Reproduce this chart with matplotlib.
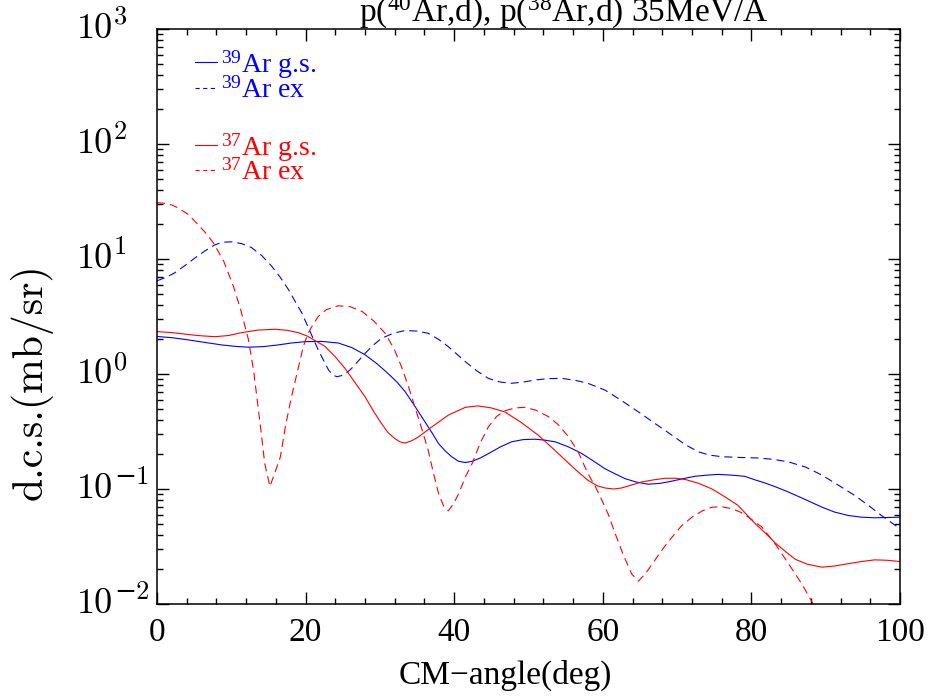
import numpy as np
import matplotlib
matplotlib.use("Agg")
import matplotlib.pyplot as plt
from matplotlib.ticker import MultipleLocator, LogLocator, NullFormatter, FixedLocator
import matplotlib.transforms as mtransforms

plt.rcParams['lines.scale_dashes'] = False
plt.rcParams['mathtext.fontset'] = 'custom'
plt.rcParams['mathtext.rm'] = 'Liberation Serif'
plt.rcParams['mathtext.it'] = 'Liberation Serif'
plt.rcParams['font.family'] = ['Liberation Serif', 'DejaVu Serif']

# ---------------- data ----------------
ar39_gs_angle = [0, 2, 4.2, 6.5, 8.7, 10.5, 12.3, 14.3, 16.3, 18.1, 19.9, 22.2, 24.4, 26.2,
                 28.0, 29.6, 31.1, 32.3, 33.4, 34.5, 35.6, 36.8, 37.9, 38.8, 39.7, 40.6,
                 41.5, 42.4, 43.5, 44.6, 46.2, 47.7, 49.3, 50.9, 52.2, 53.6, 55.4, 57.2,
                 58.8, 60.3, 61.6, 63.0, 64.5, 66.1, 67.7, 69.3, 70.8, 72.4, 74.0, 75.5,
                 77.3, 79.1, 80.5, 81.8, 83.4, 85.0, 87.2, 89.5, 91.2, 93.0, 94.8, 96.6,
                 98.3, 100]
ar39_gs_dcs = [2.12, 2.07, 1.98, 1.88, 1.79, 1.74, 1.71, 1.73, 1.79, 1.86, 1.91, 1.92, 1.86, 1.70,
               1.47, 1.23, 1.01, 0.851, 0.701, 0.55, 0.427, 0.324, 0.248, 0.214, 0.19, 0.174,
               0.17, 0.174, 0.186, 0.203, 0.232, 0.257, 0.269, 0.271, 0.266, 0.257, 0.232, 0.203,
               0.174, 0.150, 0.136, 0.123, 0.115, 0.110, 0.112, 0.117, 0.123, 0.129, 0.132, 0.134,
               0.132, 0.129, 0.120, 0.113, 0.1035, 0.094, 0.0813, 0.0695, 0.063, 0.0589, 0.0569, 0.0562,
               0.0565, 0.0569]

ar39_ex_angle = [0, 1.2, 2.4, 3.8, 5.1, 6.4, 7.8, 8.9, 10.0, 11.4, 12.7, 14.1, 15.4, 16.6,
                 17.7, 18.6, 19.5, 20.6, 21.7, 22.4, 23.1, 23.7, 24.2, 24.8, 25.5, 26.2,
                 27.1, 28.0, 29.1, 30.2, 31.8, 33.4, 35.0, 36.5, 37.9, 39.2, 40.4, 41.5,
                 43.0, 44.6, 46.2, 47.7, 49.3, 50.9, 52.7, 54.5, 56.3, 58.0, 60.3, 62.5,
                 64.8, 67.0, 69.3, 71.1, 72.9, 74.4, 76.0, 78.5, 80.9, 83.0, 85.0, 87.3,
                 89.5, 91.7, 93.9, 95.7, 97.5, 100]
ar39_ex_dcs = [6.46, 6.92, 7.59, 8.81, 10.2, 11.7, 13.3, 14.0, 14.1, 13.6, 12.6, 10.7, 8.71, 6.92,
               5.41, 4.27, 3.39, 2.34, 1.62, 1.32, 1.08, 0.977, 0.948, 0.966, 1.02, 1.12,
               1.30, 1.51, 1.78, 2.04, 2.26, 2.39, 2.36, 2.26, 2.0, 1.73, 1.48, 1.28,
               1.07, 0.916, 0.851, 0.83, 0.851, 0.887, 0.912, 0.916, 0.881, 0.83, 0.724, 0.589,
               0.468, 0.372, 0.294, 0.243, 0.21, 0.197, 0.191, 0.188, 0.186, 0.181, 0.172, 0.155,
               0.132, 0.108, 0.0879, 0.0724, 0.0589, 0.0451]

ar37_gs_angle = [0, 2, 3.3, 5.5, 7.8, 9.6, 11.4, 13.6, 15.9, 17.5, 19.0, 20.2, 21.3, 22.6,
                 24.0, 25.3, 26.6, 28.0, 29.1, 30.2, 31.1, 32.0, 32.7, 33.4, 34.3, 35.2,
                 37.0, 39.2, 41.5, 43.2, 45.0, 46.8, 49.0, 51.3, 53.0, 54.5, 56.3, 58.0,
                 59.2, 60.3, 61.5, 62.5, 63.8, 65.2, 66.8, 68.4, 69.8, 71.1, 72.9, 74.7,
                 76.5, 78.2, 80.5, 82.0, 83.2, 84.6, 85.9, 87.5, 89.5, 91.2, 93.0, 94.8,
                 96.6, 98.3, 100]
ar37_gs_dcs = [2.34, 2.29, 2.24, 2.16, 2.11, 2.16, 2.29, 2.41, 2.45, 2.40, 2.29, 2.14, 1.95, 1.74,
               1.41, 1.12, 0.851, 0.634, 0.479, 0.372, 0.309, 0.275, 0.257, 0.251, 0.263, 0.284,
               0.347, 0.439, 0.513, 0.528, 0.507, 0.468, 0.380, 0.294, 0.234, 0.19, 0.148, 0.119,
               0.107, 0.102, 0.100, 0.102, 0.108, 0.115, 0.120, 0.124, 0.124, 0.121, 0.112, 0.100,
               0.085, 0.072, 0.050, 0.0407, 0.0340, 0.0285, 0.0245, 0.0222, 0.0209, 0.0214, 0.0224, 0.0234,
               0.0242, 0.024, 0.0234]

ar37_ex_angle = [0, 1, 2, 3, 4.2, 5.5, 6.5, 7.6, 9.0, 10.3, 11.3, 12.3, 13.0, 13.6, 14.1,
                 14.5, 15.2, 15.9, 16.6, 17.3, 18.1, 19.0, 19.7, 20.3, 21.0, 21.7, 22.8,
                 24.4, 26.0, 27.6, 29.2, 30.7, 31.9, 32.9, 33.8, 34.7, 35.6, 36.5, 37.2,
                 37.9, 38.6, 39.2, 39.9, 40.6, 41.5, 42.4, 43.5, 44.6, 45.7, 46.8, 48.2,
                 49.5, 51.0, 52.7, 54.0, 55.4, 56.7, 58.0, 59.0, 59.9, 60.8, 61.6, 62.8,
                 63.9, 64.8, 65.8, 67.0, 68.2, 69.3, 70.6, 72.0, 73.4, 74.7, 76.0, 77.3,
                 78.5, 79.6, 81.4, 83.2, 85.0, 86.8, 88.2, 89.0]
ar37_ex_dcs = [30.9, 30.5, 29.5, 27.5, 24.4, 20.0, 17.0, 13.8, 9.5, 5.75, 3.55, 2.0, 1.07, 0.519, 0.28,
               0.166, 0.105, 0.141, 0.19, 0.355, 0.634, 1.12, 1.74, 2.24, 2.69, 3.16, 3.63,
               3.92, 3.85, 3.50, 2.88, 2.26, 1.66, 1.16, 0.794, 0.519, 0.339, 0.217, 0.138,
               0.091, 0.0708, 0.0646, 0.0741, 0.091, 0.127, 0.166, 0.251, 0.347, 0.427, 0.479, 0.507,
               0.513, 0.484, 0.425, 0.363, 0.284, 0.209, 0.136, 0.105, 0.0794, 0.0589, 0.042, 0.0263,
               0.0182, 0.0158, 0.0186, 0.024, 0.0309, 0.038, 0.0479, 0.0569, 0.0646, 0.0695, 0.070, 0.0676,
               0.063, 0.0569, 0.0468, 0.0333, 0.0224, 0.0149, 0.0103, 0.0083]

xticks = [0, 20, 40, 60, 80, 100]
ytick_exponents = [-2, -1, 0, 1, 2, 3]

legend_entries = [
    (r'$^{39}$Ar g.s.', 'blue', '-'),
    (r'$^{39}$Ar ex', 'blue', '--'),
    (r'$^{37}$Ar g.s.', 'red', '-'),
    (r'$^{37}$Ar ex', 'red', '--'),
]

# ---------------- figure ----------------
W, H = 932, 696
fig = plt.figure(figsize=(W / 100, H / 100), dpi=100)
ax = fig.add_axes([157 / W, 1 - 604 / H, (900 - 157) / W, (604 - 29) / H])

dash = (0, (5.8, 3.6))
lw = 0.8
ax.plot(ar39_gs_angle, ar39_gs_dcs, color='#0000ff', lw=lw)
ax.plot(ar39_ex_angle, ar39_ex_dcs, color='#0000ff', lw=lw, linestyle=dash)
ax.plot(ar37_gs_angle, ar37_gs_dcs, color='#ff0000', lw=lw)
ax.plot(ar37_ex_angle, ar37_ex_dcs, color='#ff0000', lw=lw, linestyle=dash)

ax.set_yscale('log')
ax.set_xlim(0, 100)
ax.set_ylim(1e-2, 1e3)

for s in ax.spines.values():
    s.set_linewidth(1.1)

ax.xaxis.set_major_locator(FixedLocator(xticks))
ax.xaxis.set_minor_locator(MultipleLocator(4))
ax.set_xticklabels([str(t) for t in xticks])
ax.yaxis.set_major_locator(FixedLocator([10.0 ** e for e in ytick_exponents]))
ax.yaxis.set_minor_locator(LogLocator(base=10, subs=np.arange(2, 10), numticks=20))
ax.yaxis.set_major_formatter(NullFormatter())
ax.yaxis.set_minor_formatter(NullFormatter())

ax.tick_params(which='both', direction='in', top=True, right=True, width=1.0, color='black')
ax.tick_params(which='major', length=8.5)
ax.tick_params(which='minor', length=4.3)
ax.tick_params(axis='x', which='major', labelsize=24, pad=10)

# y tick labels: "10" plus a large exponent
cm_fam = ['cmr10', 'DejaVu Serif']
trans = mtransforms.blended_transform_factory(ax.transAxes, ax.transData)
for e in ytick_exponents:
    ax.text(-0.1077, 10.0 ** e, '10', transform=trans, ha='left', va='center',
            fontsize=26, family=cm_fam)
    exp_txt = str(e) if e >= 0 else '\u2212' + str(-e)
    ax.text(-0.058, 10.0 ** e, exp_txt, transform=trans, ha='left',
            va='bottom', fontsize=19, family=cm_fam)

# axis labels and title
fig.text(505 / W, 1 - 684 / H, 'CM\u2212angle(deg)', ha='center', va='baseline', fontsize=24)
fig.text(31 / W, 1 - 382 / H, 'd.c.s.(mb/sr)', ha='center', va='center',
         rotation=90, fontsize=30, family=cm_fam)
fig.text(564 / W, 1 - 22 / H, r'p($^{40}$Ar,d), p($^{38}$Ar,d) 35MeV/A', ha='center',
         va='baseline', fontsize=24)

# legend
ax_tr = ax.transAxes
rows_y = [62, 88, 145, 170]
for (label, col, ls), ry in zip(legend_entries, rows_y):
    ya = (604 - ry) / (604 - 29)
    x0 = (195 - 157) / 743
    x1 = (217 - 157) / 743
    ax.plot([x0, x1], [ya, ya], transform=ax_tr, color=col, lw=lw,
            linestyle=(0, (3.0, 2.5)) if ls == '--' else '-', clip_on=False)
    ax.text((221 - 157) / 743, ya - 0.004, label, transform=ax_tr, color=col, ha='left',
            va='center', fontsize=20)

fig.savefig('out.png', dpi=100)
